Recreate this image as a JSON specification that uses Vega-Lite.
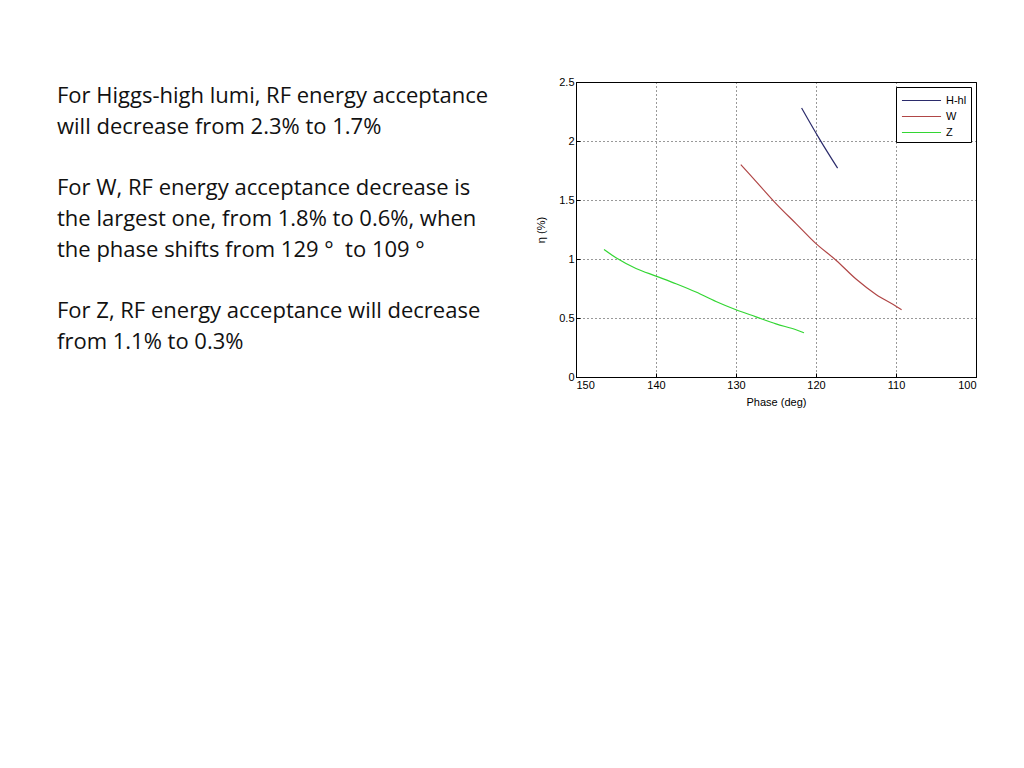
{
  "$schema": "https://vega.github.io/schema/vega-lite/v6.json",
  "background": "white",
  "padding": {"left": 57, "top": 75, "right": 10, "bottom": 10},
  "autosize": "pad",
  "bounds": "flush",
  "spacing": 49,
  "resolve": {"scale": {"color": "independent"}, "legend": {"color": "independent"}},
  "config": {
    "view": {"stroke": null},
    "axis": {
      "labelFont": "Liberation Sans",
      "labelFontSize": 11,
      "labelColor": "#000",
      "titleFont": "Liberation Sans",
      "titleFontSize": 11,
      "titleFontWeight": "normal",
      "titleColor": "#000",
      "domainColor": "#000",
      "tickColor": "#000",
      "gridColor": "#000",
      "gridDash": [1, 3],
      "gridOpacity": 0.8
    }
  },
  "hconcat": [
    {
      "width": 470,
      "height": 295,
      "data": {
        "values": [
          {"line": 1, "text": "For Higgs-high lumi, RF energy acceptance"},
          {"line": 2, "text": "will decrease from 2.3% to 1.7%"},
          {"line": 4, "text": "For W, RF energy acceptance decrease is"},
          {"line": 5, "text": "the largest one, from 1.8% to 0.6%, when"},
          {"line": 6, "text": "the phase shifts from 129\u00a0°\u00a0\u00a0to 109\u00a0°"},
          {"line": 8, "text": "For Z, RF energy acceptance will decrease"},
          {"line": 9, "text": "from 1.1% to 0.3%"}
        ]
      },
      "mark": {
        "type": "text",
        "align": "left",
        "baseline": "middle",
        "font": "Open Sans",
        "fontSize": 22,
        "color": "#111"
      },
      "encoding": {
        "y": {
          "field": "line",
          "type": "ordinal",
          "scale": {"type": "point", "domain": [1, 2, 3, 4, 5, 6, 7, 8, 9], "range": [14, 260], "padding": 0},
          "axis": null
        },
        "x": {"value": 0},
        "text": {"field": "text"}
      }
    },
    {
      "width": 400,
      "height": 295,
      "view": {"stroke": "#000", "strokeWidth": 1},
      "data": {
        "values": [
          {"series": "H-hl", "phase": 121.8, "eta": 2.28},
          {"series": "H-hl", "phase": 119.5, "eta": 2.01},
          {"series": "H-hl", "phase": 117.3, "eta": 1.77},
          {"series": "W", "phase": 129.4, "eta": 1.8},
          {"series": "W", "phase": 127.0, "eta": 1.62},
          {"series": "W", "phase": 125.0, "eta": 1.47},
          {"series": "W", "phase": 122.5, "eta": 1.3},
          {"series": "W", "phase": 120.0, "eta": 1.13},
          {"series": "W", "phase": 117.5, "eta": 0.99},
          {"series": "W", "phase": 115.0, "eta": 0.83},
          {"series": "W", "phase": 112.5, "eta": 0.7},
          {"series": "W", "phase": 110.0, "eta": 0.6},
          {"series": "W", "phase": 109.3, "eta": 0.57},
          {"series": "Z", "phase": 146.5, "eta": 1.08},
          {"series": "Z", "phase": 145.0, "eta": 1.01},
          {"series": "Z", "phase": 142.5, "eta": 0.92},
          {"series": "Z", "phase": 140.0, "eta": 0.855},
          {"series": "Z", "phase": 137.5, "eta": 0.79},
          {"series": "Z", "phase": 135.0, "eta": 0.72},
          {"series": "Z", "phase": 132.5, "eta": 0.64},
          {"series": "Z", "phase": 130.0, "eta": 0.57},
          {"series": "Z", "phase": 127.5, "eta": 0.51},
          {"series": "Z", "phase": 125.0, "eta": 0.45},
          {"series": "Z", "phase": 122.5, "eta": 0.4},
          {"series": "Z", "phase": 121.5, "eta": 0.375}
        ]
      },
      "mark": {"type": "line", "strokeWidth": 1.2, "interpolate": "monotone"},
      "encoding": {
        "x": {
          "field": "phase",
          "type": "quantitative",
          "title": "Phase (deg)",
          "scale": {"domain": [100, 150], "reverse": true, "nice": false},
          "axis": {"values": [100, 110, 120, 130, 140, 150], "tickSize": -4, "labelPadding": 6, "titlePadding": 6}
        },
        "y": {
          "field": "eta",
          "type": "quantitative",
          "title": "η (%)",
          "scale": {"domain": [0, 2.5], "nice": false},
          "axis": {"values": [0, 0.5, 1, 1.5, 2, 2.5], "format": "~g", "tickSize": -4, "labelPadding": 6, "titlePadding": 12}
        },
        "color": {
          "field": "series",
          "type": "nominal",
          "scale": {"domain": ["H-hl", "W", "Z"], "range": ["#2b2b6b", "#b04646", "#33d633"]},
          "legend": {
            "title": null,
            "orient": "top-right",
            "offset": 5,
            "symbolType": "M-2.3,0H2.3",
            "symbolSize": 289,
            "symbolOffset": 12,
            "symbolStrokeWidth": 1.2,
            "labelOffset": 15,
            "labelFont": "Liberation Sans",
            "labelFontSize": 11,
            "labelColor": "#000",
            "rowPadding": 1,
            "padding": 4,
            "strokeColor": "#000",
            "fillColor": "white"
          }
        }
      }
    }
  ]
}
